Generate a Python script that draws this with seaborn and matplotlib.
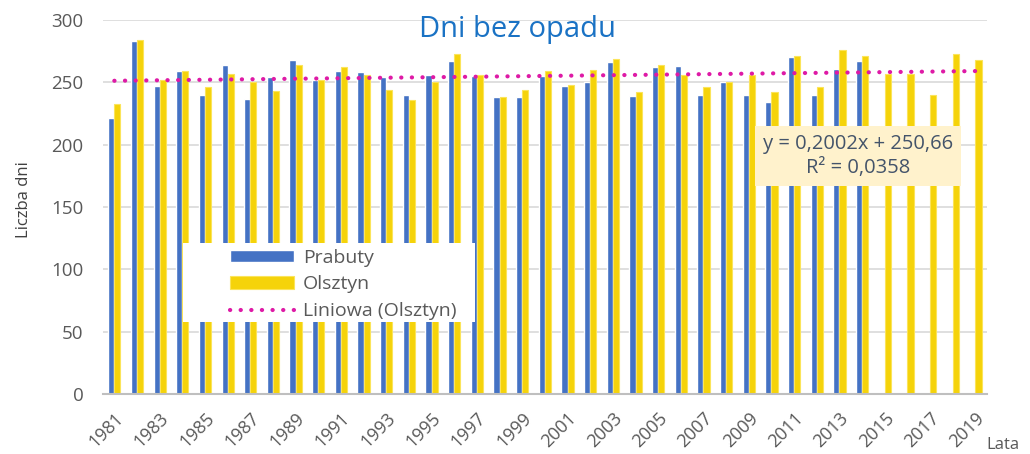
import numpy as np
import pandas as pd
import matplotlib
matplotlib.use("Agg")
import matplotlib.pyplot as plt
from matplotlib.patches import Rectangle
import seaborn as sns

# ---------------- data ----------------
years = list(range(1981, 2020))
prabuty = [221, 283, 247, 259, 240, 264, 237, 254, 268, 252,
           259, 258, 254, 240, 256, 267, 255, 238, 238, 255,
           247, 250, 266, 239, 262, 263, 240, 250, 240, 234,
           270, 240, 261, 267, np.nan, np.nan, np.nan, np.nan, np.nan]
olsztyn = [233, 284, 252, 259, 246, 257, 250, 243, 264, 252,
           262, 256, 244, 236, 250, 273, 256, 238, 244, 259,
           248, 260, 269, 242, 264, 256, 246, 250, 256, 242,
           271, 246, 276, 271, 257, 257, 240, 273, 268]
stations = ["Prabuty", "Olsztyn"]
trend_label = "Liniowa (Olsztyn)"
equation = "y = 0,2002x + 250,66\nR² = 0,0358"

df = pd.DataFrame({
    "rok": [str(y) for y in years] * 2,
    "stacja": [stations[0]] * len(years) + [stations[1]] * len(years),
    "dni": prabuty + olsztyn,
})

# ---------------- style ----------------
sns.set_style("white")
plt.rcParams["font.family"] = ["Open Sans", "DejaVu Sans"]

blue = "#4472C4"
yellow = "#F5D30A"
pink = "#DE1AA6"
grey = "#595959"

fig = plt.figure(figsize=(10.3, 4.54), dpi=100)
ax = fig.add_axes([0.1, 0.132, 0.858, 0.824])

sns.barplot(data=df, x="rok", y="dni", hue="stacja", hue_order=stations,
            palette=[blue, yellow], width=0.54, errorbar=None,
            saturation=1, ax=ax, legend=True)

# lighter rim on the yellow bars, like Excel's rendering
for bar in ax.patches:
    if np.allclose(bar.get_facecolor()[:3], matplotlib.colors.to_rgb(yellow)):
        bar.set_edgecolor("#FBE45A")
        bar.set_linewidth(0.8)

# linear trend for Olsztyn
sns.regplot(x=np.arange(len(years)), y=np.array(olsztyn, dtype=float),
            scatter=False, ci=None, ax=ax, label=trend_label,
            line_kws=dict(color=pink, lw=3.0, linestyle=(0, (0.05, 2.5)),
                          dash_capstyle="round", zorder=4))

ax.set_xlim(-0.5, len(years) - 0.5)
ax.set_ylim(0, 300)
ax.set_yticks(range(0, 301, 50))
ax.set_axisbelow(True)
ax.grid(axis="y", color="#D9D9D9", lw=1.2)
for s in ["top", "left", "right"]:
    ax.spines[s].set_visible(False)
ax.spines["bottom"].set_color("#BFBFBF")
ax.spines["bottom"].set_linewidth(1.5)

ax.set_xticks(range(0, len(years), 2))
ax.set_xticklabels([str(y) for y in years[::2]], rotation=45, ha="right",
                   rotation_mode="anchor", color=grey, fontsize=13)
ax.tick_params(axis="x", length=0, pad=11)
ax.tick_params(axis="y", length=0, pad=14, labelsize=13.5, labelcolor=grey)

ax.set_ylabel("Liczba dni", fontsize=12, color="#404040")
ax.yaxis.set_label_coords(-0.08, 0.52)
ax.set_xlabel("Lata", fontsize=12, color=grey)
ax.xaxis.set_label_coords(1.018, -0.115)

fig.text(0.502, 0.935, "Dni bez opadu", ha="center", va="center",
         fontsize=21, color="#1A72C4")

# white legend panel covering the bars
ax.add_patch(Rectangle((0.0905, 0.193), 0.33, 0.211, transform=ax.transAxes,
                       facecolor="white", edgecolor="none", zorder=3))
handles, labels = ax.get_legend_handles_labels()
leg = ax.legend(handles, labels, loc="upper left", bbox_to_anchor=(0.133, 0.415),
                frameon=False, fontsize=14, borderpad=0, handlelength=3.3,
                handleheight=0.6, handletextpad=0.45, labelspacing=0.45)
for t in leg.get_texts():
    t.set_color(grey)

ax.text(0.854, 0.636, equation, transform=ax.transAxes, ha="center", va="center",
        fontsize=14.5, color="#44546A", linespacing=1.3, zorder=6,
        bbox=dict(boxstyle="square,pad=0.4", facecolor="#FFF2CC", edgecolor="none"))

fig.savefig("out.png", dpi=100)
